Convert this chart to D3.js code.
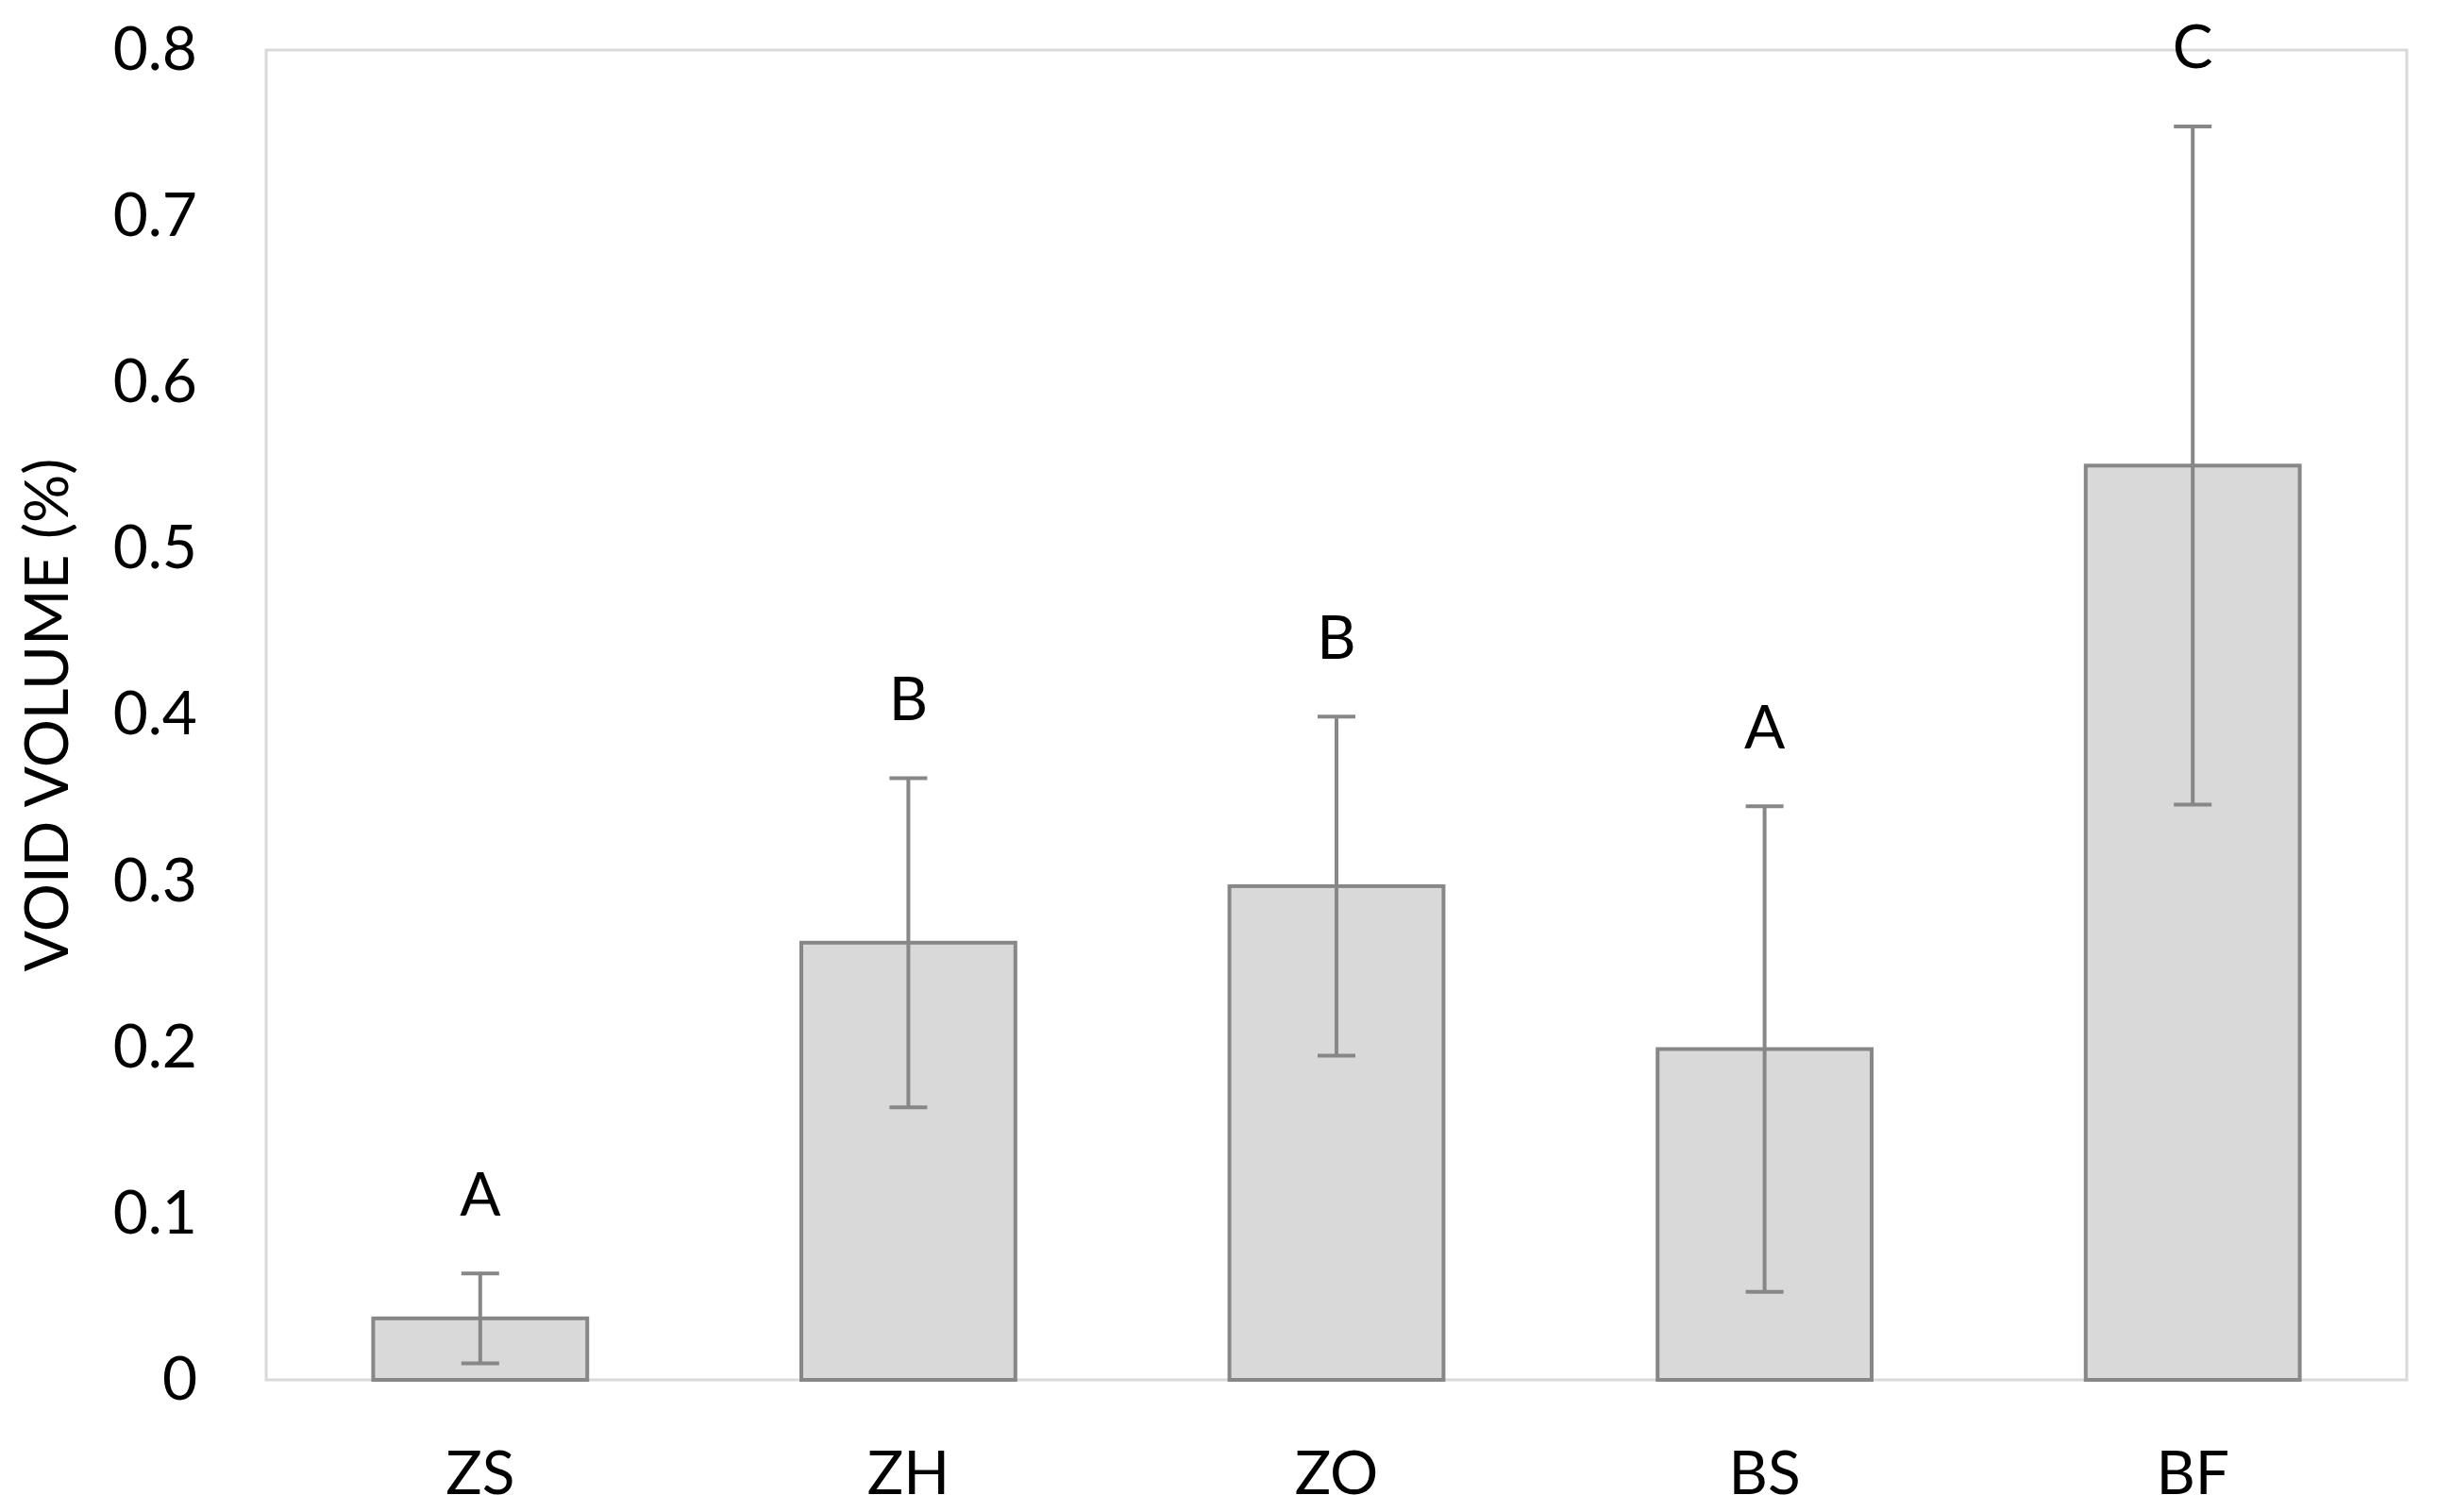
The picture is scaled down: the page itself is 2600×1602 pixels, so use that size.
<!DOCTYPE html>
<html>
<head>
<meta charset="utf-8">
<script src="https://cdn.jsdelivr.net/npm/d3@7"></script>
<style>
  body { margin: 0; background: #fff; }
  text { font-family: Lato, "Noto Sans", sans-serif; fill: #000; }
</style>
</head>
<body>
<svg id="chart" width="2600" height="1602"></svg>
<script>
// data
const categories = ["ZS", "ZH", "ZO", "BS", "BF"];
const means = [0.037, 0.263, 0.297, 0.199, 0.550];
const errors = [0.027, 0.099, 0.102, 0.146, 0.204];
const groupLetters = ["A", "B", "B", "A", "C"];
const yTicks = [0, 0.1, 0.2, 0.3, 0.4, 0.5, 0.6, 0.7, 0.8];

const svg = d3.select("#chart");
const margin = {top: 53, right: 50, bottom: 140, left: 282};
const width = +svg.attr("width");
const height = +svg.attr("height");
const plotRight = width - margin.right;
const plotBottom = height - margin.bottom;

svg.append("rect").attr("width", width).attr("height", height).attr("fill", "#fff");

const x = d3.scaleBand().domain(categories)
            .range([margin.left, plotRight])
            .paddingInner(0.5).paddingOuter(0.25);
const y = d3.scaleLinear().domain([0, 0.8]).range([plotBottom, margin.top]);

// plot frame
svg.append("rect")
   .attr("x", margin.left)
   .attr("y", margin.top)
   .attr("width", plotRight - margin.left)
   .attr("height", plotBottom - margin.top)
   .attr("fill", "none")
   .attr("stroke", "#d9d9d9")
   .attr("stroke-width", 3);

// axes
const leftAxis = d3.axisLeft(y).tickValues(yTicks).tickSize(0).tickPadding(73)
                   .tickFormat(d3.format(".1~f"));
svg.append("g")
   .attr("transform", `translate(${margin.left},0)`)
   .call(leftAxis)
   .call(g => g.select(".domain").remove())
   .selectAll("text")
   .style("font-size", "64px");

const bottomAxis = d3.axisBottom(x).tickSize(0).tickPadding(76);
svg.append("g")
   .attr("transform", `translate(0,${plotBottom})`)
   .call(bottomAxis)
   .call(g => g.select(".domain").remove())
   .selectAll("text")
   .style("font-size", "64px");

// bars
const data = categories.map((c, i) => ({cat: c, mean: means[i], err: errors[i], letter: groupLetters[i]}));

svg.append("g").selectAll("rect")
   .data(data)
   .join("rect")
   .attr("x", d => x(d.cat))
   .attr("y", d => y(d.mean))
   .attr("width", x.bandwidth())
   .attr("height", d => y(0) - y(d.mean))
   .attr("fill", "#d9d9d9")
   .attr("stroke", "#878787")
   .attr("stroke-width", 4);

// error bars
const capHalf = 20;
const errG = svg.append("g").attr("stroke", "#878787").attr("stroke-width", 4);
data.forEach(d => {
    const cx = x(d.cat) + x.bandwidth() / 2;
    errG.append("line")
        .attr("x1", cx).attr("x2", cx)
        .attr("y1", y(d.mean + d.err)).attr("y2", y(d.mean - d.err));
    [d.mean + d.err, d.mean - d.err].forEach(v => {
        errG.append("line")
            .attr("x1", cx - capHalf).attr("x2", cx + capHalf)
            .attr("y1", y(v)).attr("y2", y(v));
    });
});

// significance letters
svg.append("g").selectAll("text")
   .data(data)
   .join("text")
   .attr("x", d => x(d.cat) + x.bandwidth() / 2)
   .attr("y", d => y(d.mean + d.err) - 84)
   .attr("dy", "0.35em")
   .attr("text-anchor", "middle")
   .style("font-size", "64px")
   .text(d => d.letter);

// y title
svg.append("text")
   .attr("transform", `translate(50,${(margin.top + plotBottom) / 2}) rotate(-90)`)
   .attr("dy", "0.35em")
   .attr("text-anchor", "middle")
   .style("font-size", "64px")
   .text("VOID VOLUME (%)");
</script>
</body>
</html>
